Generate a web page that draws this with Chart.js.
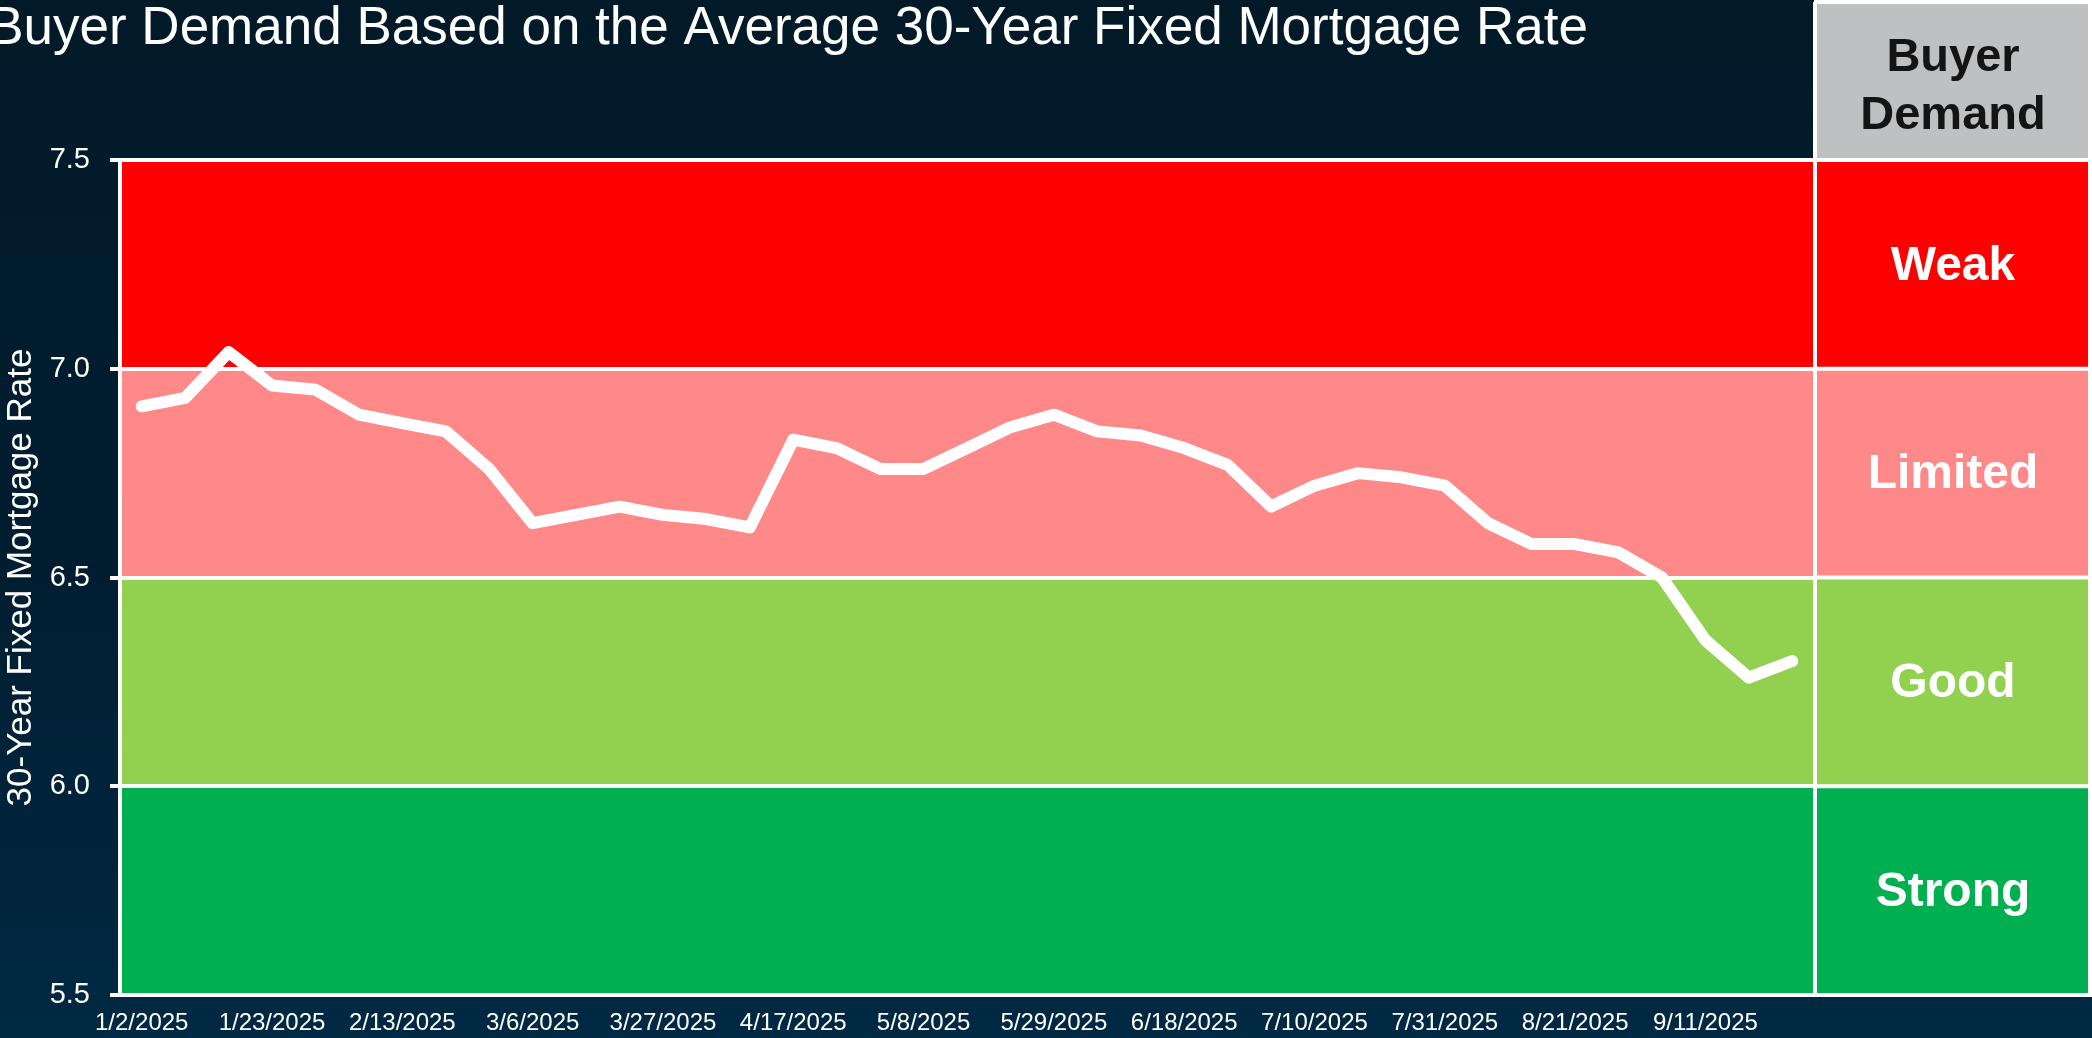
<!DOCTYPE html>
<html>
<head>
<meta charset="utf-8">
<script src="https://cdn.jsdelivr.net/npm/chart.js@4"></script>
<style>
  html, body { margin: 0; padding: 0; }
  body {
    width: 2092px;
    height: 1038px;
    overflow: hidden;
    background: linear-gradient(to bottom, #021a28 0%, #011e31 55%, #002943 100%);
  }
  #wrap { position: relative; width: 2092px; height: 1038px; }
</style>
</head>
<body>
<div id="wrap"><canvas id="rateChart" width="2092" height="1038"></canvas></div>
<script>
// DATA

const dates = [
  "1/2/2025", "1/9/2025", "1/16/2025", "1/23/2025", "1/30/2025", "2/6/2025",
  "2/13/2025", "2/20/2025", "2/27/2025", "3/6/2025", "3/13/2025", "3/20/2025",
  "3/27/2025", "4/3/2025", "4/10/2025", "4/17/2025", "4/24/2025", "5/1/2025",
  "5/8/2025", "5/15/2025", "5/22/2025", "5/29/2025", "6/5/2025", "6/12/2025",
  "6/18/2025", "6/26/2025", "7/3/2025", "7/10/2025", "7/17/2025", "7/24/2025",
  "7/31/2025", "8/7/2025", "8/14/2025", "8/21/2025", "8/28/2025", "9/4/2025",
  "9/11/2025", "9/18/2025", "9/25/2025",
];

const rates = [
  6.91, 6.93, 7.04, 6.96, 6.95, 6.89, 6.87, 6.85, 6.76, 6.63, 6.65, 6.67,
  6.65, 6.64, 6.62, 6.83, 6.81, 6.76, 6.76, 6.81, 6.86, 6.89, 6.85, 6.84,
  6.81, 6.77, 6.67, 6.72, 6.75, 6.74, 6.72, 6.63, 6.58, 6.58, 6.56, 6.5,
  6.35, 6.26, 6.3,
];

// demand zones, top to bottom
const zoneNames = ["Weak", "Limited", "Good", "Strong"];
const zoneTops = [7.5, 7.0, 6.5, 6.0];
const zoneBottoms = [7.0, 6.5, 6.0, 5.5];
const zoneColors = ["#FF0000", "#FF8989", "#92D050", "#00B050"];

const yTicks = [5.5, 6.0, 6.5, 7.0, 7.5];

const titleText = "Buyer Demand Based on the Average 30-Year Fixed Mortgage Rate";
const axisTitle = "30-Year Fixed Mortgage Rate";
const panelHeader = ["Buyer", "Demand"];

// PLUGIN: bands behind the line + demand panel on the right
const zonesPlugin = {
  id: "zones",
  beforeDraw(chart) {
    const { ctx, chartArea, scales } = chart;
    const y = scales.y;
    const panelLeft = chartArea.right;
    const panelRight = chart.width;

    ctx.save();

    // title
    ctx.fillStyle = "#ffffff";
    ctx.font = "53px 'Liberation Sans', Arial, sans-serif";
    ctx.textAlign = "right";
    ctx.textBaseline = "alphabetic";
    ctx.fillText(titleText, 1588, 44);

    // header box
    ctx.fillStyle = "#BEC0C1";
    ctx.fillRect(panelLeft, 3, panelRight - panelLeft, chartArea.top - 3);
    ctx.fillStyle = "#141414";
    ctx.font = "bold 47px 'Liberation Sans', Arial, sans-serif";
    ctx.textAlign = "center";
    const cx = (panelLeft + panelRight) / 2;
    ctx.fillText(panelHeader[0], cx, 71);
    ctx.fillText(panelHeader[1], cx, 129);

    // bands, chart area and panel
    zoneNames.forEach((name, i) => {
      const top = y.getPixelForValue(zoneTops[i]);
      const bottom = y.getPixelForValue(zoneBottoms[i]);
      ctx.fillStyle = zoneColors[i];
      ctx.fillRect(chartArea.left, top, panelRight - chartArea.left, bottom - top);

      ctx.fillStyle = "#ffffff";
      ctx.font = "bold 48px 'Liberation Sans', Arial, sans-serif";
      ctx.textBaseline = "middle";
      ctx.fillText(name, cx, (top + bottom) / 2 + 2);
    });

    // panel borders
    ctx.strokeStyle = "#ffffff";
    ctx.lineWidth = 4;
    ctx.beginPath();
    ctx.moveTo(panelLeft, 2);
    ctx.lineTo(panelRight, 2);
    ctx.moveTo(panelLeft + 1, 2);
    ctx.lineTo(panelLeft + 1, chartArea.bottom);
    ctx.moveTo(panelRight - 2, 2);
    ctx.lineTo(panelRight - 2, chartArea.bottom);
    yTicks.forEach((v) => {
      const py = y.getPixelForValue(v);
      ctx.moveTo(panelLeft, py);
      ctx.lineTo(panelRight, py);
    });
    ctx.stroke();

    ctx.restore();
  },
};

const rateChart = document.getElementById("rateChart");

new Chart(rateChart, {
  type: "line",
  data: {
    labels: dates,
    datasets: [
      {
        label: "30-Year Fixed Mortgage Rate",
        data: rates,
        borderColor: "#ffffff",
        borderWidth: 12,
        pointRadius: 0,
        tension: 0,
        borderJoinStyle: "round",
        borderCapStyle: "round",
      },
    ],
  },
  options: {
    responsive: false,
    animation: false,
    layout: {
      padding: { left: 0, right: 278, top: 160, bottom: 0 },
    },
    plugins: {
      legend: { display: false },
      tooltip: { enabled: false },
    },
    scales: {
      x: {
        offset: true,
        grid: { display: false, drawTicks: false },
        border: { display: true, color: "#ffffff", width: 4 },
        ticks: {
          autoSkip: false,
          maxRotation: 0,
          padding: 14,
          color: "#ffffff",
          font: { family: "'Liberation Sans', Arial, sans-serif", size: 24 },
          callback: (value, index) => (index % 3 === 0 ? dates[index] : ""),
        },
        afterFit: (scale) => {
          scale.height = 43;
        },
      },
      y: {
        min: 5.5,
        max: 7.5,
        grid: {
          color: "#ffffff",
          lineWidth: 4,
          tickLength: 10,
          drawOnChartArea: true,
        },
        border: { display: true, color: "#ffffff", width: 4 },
        ticks: {
          stepSize: 0.5,
          padding: 20,
          color: "#ffffff",
          font: { family: "'Liberation Sans', Arial, sans-serif", size: 29 },
          callback: (v) => v.toFixed(1),
        },
        title: {
          display: true,
          text: axisTitle,
          color: "#ffffff",
          padding: 0,
          font: { family: "'Liberation Sans', Arial, sans-serif", size: 35 },
        },
        afterFit: (scale) => {
          scale.width = 120;
        },
      },
    },
  },
  plugins: [zonesPlugin],
});
</script>
</body>
</html>
